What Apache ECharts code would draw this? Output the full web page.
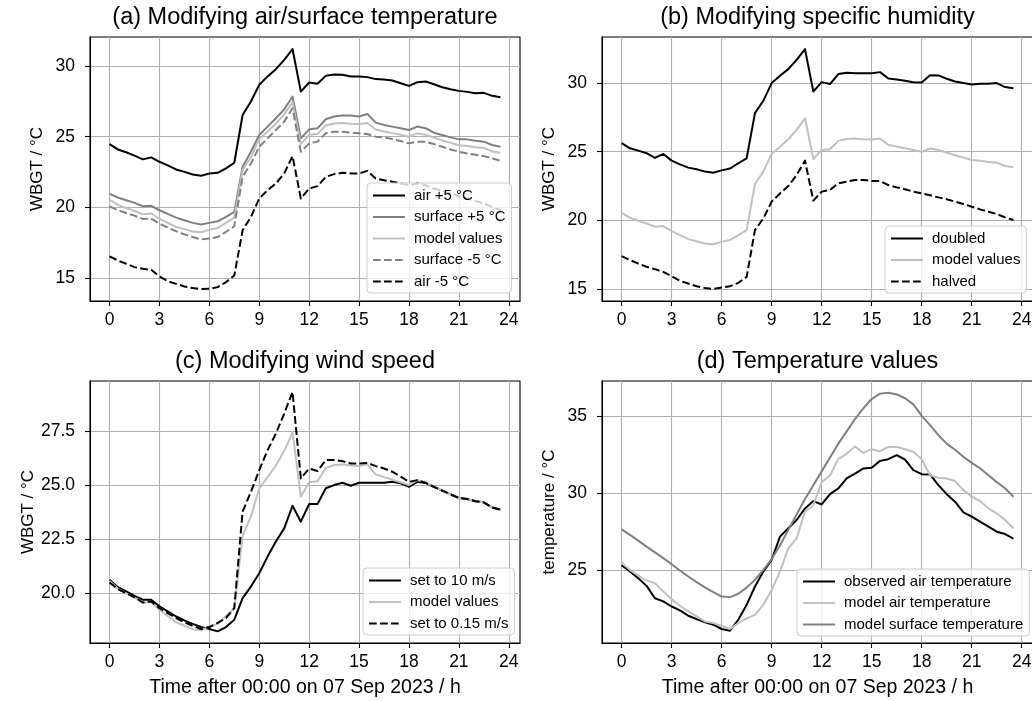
<!DOCTYPE html>
<html><head><meta charset="utf-8">
<script src="https://cdn.jsdelivr.net/npm/echarts@6/dist/echarts.min.js"></script>
<style>html,body{margin:0;padding:0;background:#fff}#c{width:1032px;height:701px}</style>
</head><body><div id="c"></div>
<script>
// ---- data (time in hours after 00:00 on 07 Sep 2023) ----
const hours = [0,0.5,1,1.5,2,2.5,3,3.5,4,4.5,5,5.5,6,6.5,7,7.5,8,8.5,9,9.5,10,10.5,11,11.5,12,12.5,13,13.5,14,14.5,15,15.5,16,16.5,17,17.5,18,18.5,19,19.5,20,20.5,21,21.5,22,22.5,23,23.5];
const xTicks = [0,3,6,9,12,15,18,21,24];
const yTicksA = [15,20,25,30];
const yTicksB = [15,20,25,30];
const yTicksC = [20,22.5,25,27.5];
const yTicksD = [25,30,35];

// (a) air/surface temperature
const airPlus5 = [24.48,24.1,23.9,23.66,23.4,23.54,23.23,22.97,22.69,22.52,22.33,22.24,22.4,22.45,22.76,23.16,26.53,27.48,28.66,29.25,29.76,30.42,31.18,28.18,28.82,28.73,29.29,29.39,29.36,29.25,29.25,29.2,29.06,29.03,28.96,28.77,28.58,28.84,28.89,28.7,28.49,28.35,28.23,28.16,28.07,28.09,27.88,27.78];
const surfPlus5 = [20.97,20.71,20.52,20.33,20.09,20.12,19.81,19.55,19.29,19.1,18.92,18.8,18.92,19.03,19.34,19.69,22.88,23.94,25.12,25.71,26.3,26.93,27.83,24.88,25.52,25.59,26.23,26.42,26.49,26.49,26.42,26.6,25.99,25.83,25.71,25.59,25.47,25.71,25.6,25.28,25.12,24.95,24.81,24.81,24.72,24.65,24.41,24.29];
const modelVals = [20.55,20.19,19.97,19.77,19.53,19.58,19.21,18.92,18.63,18.48,18.31,18.26,18.43,18.56,18.92,19.29,22.65,23.55,24.84,25.37,25.91,26.59,27.44,24.47,25.13,25.18,25.79,25.93,25.96,25.91,25.89,25.96,25.5,25.37,25.25,25.13,25.0,25.23,25.13,24.94,24.74,24.57,24.4,24.35,24.25,24.2,23.96,23.86];
const surfMinus5 = [20.09,19.81,19.62,19.43,19.2,19.22,18.87,18.58,18.33,18.11,17.92,17.76,17.81,17.92,18.28,18.68,22.17,23.11,24.29,24.88,25.47,26.06,27.0,23.94,24.53,24.65,25.24,25.35,25.35,25.28,25.24,25.19,25.0,24.95,24.83,24.69,24.53,24.65,24.65,24.48,24.29,24.1,23.94,23.82,23.73,23.63,23.47,23.3];
const airMinus5 = [16.56,16.27,16.04,15.8,15.68,15.61,15.14,14.81,14.62,14.43,14.32,14.25,14.27,14.39,14.74,15.21,18.4,19.34,20.64,21.23,21.7,22.41,23.63,20.64,21.34,21.51,22.17,22.36,22.45,22.41,22.41,22.59,22.05,21.93,21.82,21.7,21.58,21.7,21.58,21.34,21.18,20.99,20.8,20.64,20.47,20.28,20.05,19.81];
// (b) specific humidity
const humDoubled = [25.62,25.25,25.08,24.89,24.55,24.84,24.35,24.08,23.84,23.72,23.55,23.47,23.64,23.77,24.16,24.52,27.81,28.71,30.0,30.54,31.02,31.7,32.48,29.39,30.07,29.93,30.66,30.75,30.71,30.71,30.71,30.8,30.34,30.27,30.17,30.07,30.05,30.58,30.56,30.32,30.12,30.0,29.9,29.95,29.95,30.0,29.71,29.63];
const humHalved = [17.39,17.1,16.85,16.61,16.44,16.24,15.93,15.59,15.39,15.2,15.07,15.0,15.1,15.2,15.44,15.88,19.29,20.14,21.36,21.96,22.5,23.3,24.35,21.43,22.09,22.21,22.7,22.82,22.94,22.94,22.87,22.87,22.57,22.4,22.26,22.09,21.96,21.82,21.67,21.53,21.36,21.19,20.99,20.8,20.63,20.46,20.21,20.02];
// (c) wind speed
const wind10 = [20.6,20.26,20.06,19.86,19.68,19.68,19.37,19.14,18.9,18.72,18.56,18.41,18.32,18.21,18.41,18.75,19.75,20.29,20.91,21.68,22.38,22.99,24.04,23.3,24.12,24.12,24.85,25.0,25.11,24.97,25.11,25.11,25.11,25.11,25.15,25.08,24.92,25.15,25.1,24.92,24.74,24.57,24.4,24.35,24.25,24.2,23.96,23.86];
const wind015 = [20.48,20.17,19.98,19.8,19.55,19.6,19.29,19.06,18.83,18.63,18.47,18.32,18.41,18.6,18.83,19.29,23.77,24.69,25.69,26.62,27.39,28.32,29.32,25.31,25.77,25.65,26.16,26.16,26.11,26.0,26.0,26.03,25.88,25.77,25.62,25.39,25.15,25.23,25.1,24.92,24.74,24.57,24.4,24.35,24.25,24.2,23.96,23.86];
// (d) temperatures
const obsAir = [25.3,24.89,24.46,23.96,23.16,22.95,22.62,22.37,22.02,21.8,21.59,21.44,21.16,21.05,21.76,22.73,23.92,24.89,25.65,27.16,27.7,28.24,28.99,29.47,29.25,29.92,30.29,30.94,31.26,31.59,31.63,32.08,32.19,32.45,32.17,31.48,31.22,31.2,30.51,29.92,29.43,28.74,28.46,28.13,27.81,27.48,27.33,27.03];
const modelAir = [25.48,25.0,24.63,24.31,24.14,23.6,23.1,22.67,22.3,21.98,21.65,21.54,21.37,21.16,21.54,21.85,22.08,22.73,23.7,24.89,26.4,27.05,28.78,29.2,30.7,31.13,32.21,32.54,33.02,32.6,32.84,32.71,32.99,32.99,32.84,32.67,32.19,31.15,30.98,30.94,30.77,30.18,29.75,29.47,29.0,28.67,28.24,27.7];
const modelSurf = [27.63,27.27,26.9,26.51,26.14,25.76,25.37,24.96,24.57,24.2,23.86,23.55,23.27,23.23,23.45,23.85,24.35,25.0,25.7,26.6,27.6,28.6,29.6,30.5,31.4,32.3,33.2,34.0,34.8,35.5,36.1,36.45,36.5,36.4,36.15,35.75,35.0,34.4,33.75,33.2,32.8,32.35,31.95,31.6,31.15,30.7,30.3,29.75];

// ---- styling ----
const FONT = '"Liberation Sans", Arial, Helvetica, sans-serif';
const BLACK = '#000000', GRAY = '#808080', SILVER = '#c0c0c0';
const DASH = [7.7, 3.3];
const TICK_FS = 17.5, YNAME_FS = 17, XNAME_FS = 19.5, TITLE_FS = 23.5, LEG_FS = 15;

const boxes = [
  {left: 90, top: 37, width: 430, height: 264},
  {left: 602, top: 37, width: 431, height: 264},
  {left: 90, top: 381, width: 430, height: 262},
  {left: 602, top: 381, width: 431, height: 262}
];
const yRanges = [[13.41, 32.03], [14.12, 33.36], [17.67, 29.83], [20.25, 37.27]];
const yTicks = [yTicksA, yTicksB, yTicksC, yTicksD];
const yNames = ['WBGT / °C', 'WBGT / °C', 'WBGT / °C', 'temperature / °C'];
const titles = ['(a) Modifying air/surface temperature', '(b) Modifying specific humidity', '(c) Modifying wind speed', '(d) Temperature values'];

const grid = boxes.map(b => Object.assign({
  show: true, borderColor: BLACK, borderWidth: 1.1, backgroundColor: 'transparent',
  containLabel: false, outerBoundsMode: 'none'
}, b));

const xAxis = boxes.map((b, i) => ({
  type: 'value', gridIndex: i, min: -1.175, max: 24.675,
  name: i >= 2 ? 'Time after 00:00 on 07 Sep 2023 / h' : '',
  nameLocation: 'middle', nameGap: 35,
  nameTextStyle: {fontSize: XNAME_FS, fontFamily: FONT, color: BLACK},
  axisLine: {show: true, onZero: false, lineStyle: {color: BLACK, width: 1.1}},
  axisTick: {show: true, length: 5, lineStyle: {color: BLACK, width: 1.1}, customValues: xTicks},
  axisLabel: {show: true, margin: 10, fontSize: TICK_FS, fontFamily: FONT, color: BLACK, customValues: xTicks},
  splitLine: {show: true, lineStyle: {color: '#b0b0b0', width: 1.1}}
}));

const yAxis = boxes.map((b, i) => ({
  type: 'value', gridIndex: i, min: yRanges[i][0], max: yRanges[i][1],
  name: yNames[i], nameLocation: 'middle', nameGap: 44, nameRotate: 90,
  nameTextStyle: {fontSize: YNAME_FS, fontFamily: FONT, color: BLACK},
  axisLine: {show: true, onZero: false, lineStyle: {color: BLACK, width: 1.1}},
  axisTick: {show: true, length: 5, lineStyle: {color: BLACK, width: 1.1}, customValues: yTicks[i]},
  axisLabel: {show: true, margin: 15, fontSize: TICK_FS, fontFamily: FONT, color: BLACK, customValues: yTicks[i],
    formatter: i === 2 ? (v => Number(v).toFixed(1)) : (v => String(v))},
  splitLine: {show: true, lineStyle: {color: '#b0b0b0', width: 1.1}}
}));

function pairs(vals) { return hours.map((h, k) => [h, vals[k]]); }
function line(name, vals, panel, color, dashed) {
  return {
    type: 'line', name: name, xAxisIndex: panel, yAxisIndex: panel,
    data: pairs(vals), symbol: 'none', showSymbol: false, smooth: false,
    color: color,
    lineStyle: {color: color, width: 2, type: dashed ? DASH : 'solid', cap: 'butt', join: 'round'},
    emphasis: {disabled: true}, animation: false, clip: true
  };
}
const series = [
  line('air +5 °C', airPlus5, 0, BLACK, false),
  line('surface +5 °C', surfPlus5, 0, GRAY, false),
  line('model values', modelVals, 0, SILVER, false),
  line('surface -5 °C', surfMinus5, 0, GRAY, true),
  line('air -5 °C', airMinus5, 0, BLACK, true),
  line('doubled', humDoubled, 1, BLACK, false),
  line('model values', modelVals, 1, SILVER, false),
  line('halved', humHalved, 1, BLACK, true),
  line('set to 10 m/s', wind10, 2, BLACK, false),
  line('model values', modelVals, 2, SILVER, false),
  line('set to 0.15 m/s', wind015, 2, BLACK, true),
  line('observed air temperature', obsAir, 3, BLACK, false),
  line('model air temperature', modelAir, 3, SILVER, false),
  line('model surface temperature', modelSurf, 3, GRAY, false)
];

function legend(data, left, top) {
  return {
    data: data, orient: 'vertical', left: left, top: top,
    itemWidth: 32, itemHeight: 14, itemGap: 6.5,
    padding: [5, 6, 4, 5],
    selectedMode: false,
    backgroundColor: 'rgba(255,255,255,0.8)', borderColor: '#cccccc', borderWidth: 1, borderRadius: 4,
    itemStyle: {opacity: 0, borderWidth: 0},
    textStyle: {fontSize: LEG_FS, fontFamily: FONT, color: BLACK, padding: [0, 0, 0, 4]}
  };
}
const legends = [
  legend(['air +5 °C', 'surface +5 °C', 'model values', 'surface -5 °C', 'air -5 °C'], 367, 183),
  legend(['doubled', 'model values', 'halved'], 885, 226),
  legend(['set to 10 m/s', 'model values', 'set to 0.15 m/s'], 363, 568),
  legend(['observed air temperature', 'model air temperature', 'model surface temperature'], 797, 569)
];

const titleCenters = [[305, 18], [817.5, 18], [305, 362], [817.5, 362]];
const graphic = titles.map((t, i) => ({
  type: 'text', x: titleCenters[i][0], y: titleCenters[i][1], silent: true,
  style: {text: t, fontSize: TITLE_FS, fontFamily: FONT, fill: BLACK,
    align: 'center', verticalAlign: 'middle', textAlign: 'center', textVerticalAlign: 'middle'}
}));

const chart = echarts.init(document.getElementById('c'), null, {renderer: 'canvas', width: 1032, height: 701});
chart.setOption({
  backgroundColor: '#ffffff',
  animation: false,
  grid: grid, xAxis: xAxis, yAxis: yAxis, series: series,
  legend: legends, graphic: graphic
});
</script></body></html>
